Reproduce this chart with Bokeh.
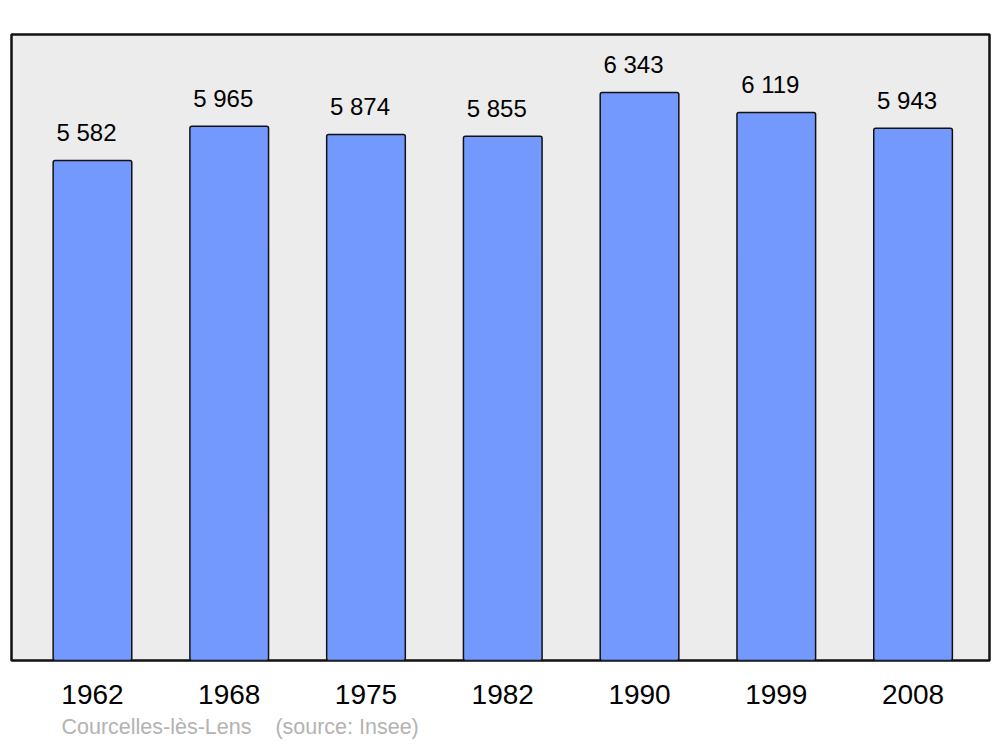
from bokeh.plotting import figure
from bokeh.models import ColumnDataSource, Range1d, Title, FixedTicker
from bokeh.embed import file_html
from bokeh.resources import INLINE

years = ["1962", "1968", "1975", "1982", "1990", "1999", "2008"]
population = [5582, 5965, 5874, 5855, 6343, 6119, 5943]
value_labels = ["5 582", "5 965", "5 874", "5 855", "6 343", "6 119", "5 943"]
footer = "Courcelles-lès-Lens\u00a0\u00a0\u00a0\u00a0(source: Insee)"

xs = list(range(len(years)))
src = ColumnDataSource(dict(x=xs, top=population, lab=value_labels))

p = figure(width=998, height=747, output_backend="svg", toolbar_location=None,
           x_range=Range1d(-0.592, 6.559), y_range=Range1d(0, 6990),
           min_border_left=11, min_border_right=9, min_border_top=34, min_border_bottom=87)
p.background_fill_color = "#ececec"
p.border_fill_color = "white"
p.outline_line_color = "#111111"
p.outline_line_width = 2.5
p.xgrid.visible = False
p.ygrid.visible = False
p.yaxis.visible = False

p.vbar(x="x", top="top", bottom=0, width=0.575, source=src,
       fill_color="#7399ff", line_color="#111111", line_width=1.5, border_radius=2)

p.text(x="x", y="top", text="lab", source=src, x_offset=-6, y_offset=-28,
       text_align="center", text_baseline="alphabetic",
       text_font={"value": "Liberation Sans"}, text_font_size="24px", text_color="black")

ax = p.xaxis[0]
ax.ticker = FixedTicker(ticks=xs)
ax.major_label_overrides = {i: y for i, y in enumerate(years)}
ax.axis_line_color = None
ax.major_tick_line_color = None
ax.minor_tick_line_color = None
ax.major_label_text_font = "Liberation Sans"
ax.major_label_text_font_size = "28px"
ax.major_label_text_color = "black"
ax.major_label_standoff = 18

p.add_layout(Title(text=footer, align="left", offset=50, standoff=12,
                   text_font="Liberation Sans", text_font_size="21.5px",
                   text_font_style="normal", text_color="#b3b3b3"), "below")

open("out.html", "w").write(file_html(p, INLINE))
